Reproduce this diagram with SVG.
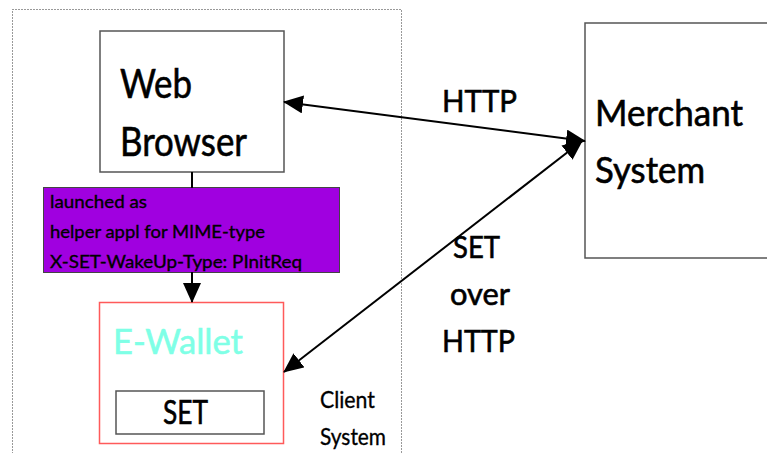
<svg xmlns="http://www.w3.org/2000/svg" width="767" height="453" viewBox="0 0 767 453">
<style>
.box{fill:#fff;stroke:#555;stroke-width:1.5}
.t{font-family:Lato,"Liberation Sans",sans-serif;fill:#000;stroke:#000;stroke-width:0.6}
.s{stroke-width:0.35}
.conn{stroke:#000;stroke-width:2;fill:none}
</style>
<defs>
<marker id="ah" markerUnits="userSpaceOnUse" markerWidth="20" markerHeight="18" refX="19" refY="9" orient="auto-start-reverse" viewBox="0 0 20 18">
<path d="M0,0 L20,9 L0,18 z" fill="#000"/>
</marker>
</defs>
<rect width="767" height="453" fill="#fff"/>
<g id="client-system">
<rect x="12.5" y="9.5" width="389" height="460" fill="none" stroke="#333" stroke-width="1" stroke-dasharray="1,2"/>
<text class="t s" x="320" y="408" font-size="24" textLength="55" lengthAdjust="spacingAndGlyphs">Client</text>
<text class="t s" x="320" y="445" font-size="24" textLength="66" lengthAdjust="spacingAndGlyphs">System</text>
</g>
<g id="web-browser">
<rect class="box" x="100" y="31" width="184" height="141"/>
<text class="t" x="120" y="98" font-size="40" textLength="72" lengthAdjust="spacingAndGlyphs">Web</text>
<text class="t" x="120" y="156" font-size="40" textLength="127" lengthAdjust="spacingAndGlyphs">Browser</text>
</g>
<g id="launch-note">
<rect x="43.5" y="187.5" width="296" height="85" fill="#a000e0" stroke="#444" stroke-width="1"/>
<text class="t s" x="50" y="208" font-size="17" textLength="97" lengthAdjust="spacingAndGlyphs">launched as</text>
<text class="t s" x="50" y="238" font-size="17" textLength="215" lengthAdjust="spacingAndGlyphs">helper appl for MIME-type</text>
<text class="t s" x="50" y="268" font-size="17" textLength="252" lengthAdjust="spacingAndGlyphs">X-SET-WakeUp-Type: PInitReq</text>
</g>
<g id="e-wallet">
<rect x="99.5" y="302.5" width="184" height="141" fill="#fff" stroke="#ff5a5a" stroke-width="1.5"/>
<text class="t" x="113" y="354" font-size="35" style="fill:#7fffe6;stroke:#7fffe6" textLength="130" lengthAdjust="spacingAndGlyphs">E-Wallet</text>
</g>
<g id="set">
<rect class="box" x="116" y="391" width="148" height="43"/>
<text class="t" x="163" y="424" font-size="32" textLength="45" lengthAdjust="spacingAndGlyphs">SET</text>
</g>
<g id="merchant-system">
<rect class="box" x="585" y="23" width="200" height="235"/>
<text class="t" x="595" y="126" font-size="36" textLength="148" lengthAdjust="spacingAndGlyphs">Merchant</text>
<text class="t" x="595" y="183" font-size="36" textLength="110" lengthAdjust="spacingAndGlyphs">System</text>
</g>
<g id="connectors">
<line class="conn" x1="192" y1="172" x2="192" y2="188"/>
<line class="conn" x1="192" y1="272" x2="192" y2="302" marker-end="url(#ah)"/>
<line class="conn" x1="284" y1="102" x2="585" y2="141" marker-start="url(#ah)" marker-end="url(#ah)"/>
<line class="conn" x1="284" y1="372" x2="582" y2="141" marker-start="url(#ah)" marker-end="url(#ah)"/>
<text class="t" x="442" y="112" font-size="30" textLength="75" lengthAdjust="spacingAndGlyphs">HTTP</text>
<text class="t" x="453" y="258" font-size="30" textLength="47" lengthAdjust="spacingAndGlyphs">SET</text>
<text class="t" x="450" y="305" font-size="30" textLength="60" lengthAdjust="spacingAndGlyphs">over</text>
<text class="t" x="442" y="352" font-size="30" textLength="73" lengthAdjust="spacingAndGlyphs">HTTP</text>
</g>
</svg>
